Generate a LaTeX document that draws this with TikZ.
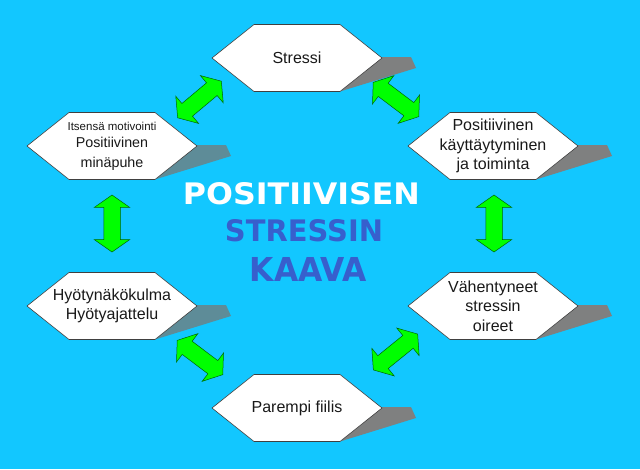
\documentclass[tikz,border=0pt]{standalone}
\usepackage{fontspec}
\setmainfont{Liberation Sans}
\newfontfamily\otsikko{DejaVu Sans}
\usetikzlibrary{shapes.arrows}
\definecolor{tausta}{RGB}{18,199,255}
\definecolor{varjoA}{RGB}{94,140,152}
\definecolor{varjoB}{RGB}{127,128,128}
\definecolor{nuoli}{RGB}{0,255,0}
\definecolor{sininen}{RGB}{55,95,205}
% Kuusikulmio: Name, x, y, Schattenfarbe, Text
\newcommand{\kuusikulmio}[5]{%
	\fill[#4] (#2+85,#3-1) -- (#2+114,#3-1) -- (#2+119,#3+10) -- (#2+43,#3+33.5) -- cycle;
	\filldraw[hexbox] (#2-85,#3) -- (#2-43,#3-33.5) -- (#2+43,#3-33.5) -- (#2+85,#3)
	-- (#2+43,#3+33.5) -- (#2-43,#3+33.5) -- cycle;
	\node[hextext] (#1) at (#2,#3) {#5};}
\begin{document}
\begin{tikzpicture}[x=1pt, y=-1pt,
	hexbox/.style={fill=white, draw=black!75, line width=0.6pt},
	hextext/.style={align=center, inner sep=0pt, text=black!90,
		font=\fontsize{16}{19.5}\selectfont},
	dblarrow/.style={double arrow, fill=nuoli, draw=black!60!green, line width=0.5pt,
		inner xsep=0pt, inner ysep=8pt, minimum height=57pt, minimum width=35pt,
		double arrow head extend=9.5pt, double arrow tip angle=110}]
	% Hintergrund
	\fill[tausta] (0,0) rectangle (640,469);
	% Kaesten
	\kuusikulmio{stressi}{297}{58}{varjoB}{Stressi}
	\kuusikulmio{motiv}{112}{146}{varjoA}{{\fontsize{11.5}{17}\selectfont Itsensä motivointi}\\[-2pt]
		\fontsize{14.3}{17}\selectfont Positiivinen\\ \fontsize{14.3}{17}\selectfont minäpuhe}
	\kuusikulmio{kaytt}{493}{146}{varjoB}{Positiivinen\\käyttäytyminen\\ja toiminta}
	\kuusikulmio{hyoty}{112}{306}{varjoA}{Hyötynäkökulma\\Hyötyajattelu}
	\kuusikulmio{vahen}{493}{306}{varjoB}{Vähentyneet\\stressin\\oireet}
	\kuusikulmio{parempi}{297}{408}{varjoB}{Parempi fiilis}
	% Pfeile
	\node[dblarrow, rotate=40] (n1) at (199.5,99.5) {};
	\node[dblarrow, rotate=-37] (n2) at (396,99.5) {};
	\node[dblarrow, rotate=90] (n3) at (112,223.5) {};
	\node[dblarrow, rotate=90] (n4) at (494,223.5) {};
	\node[dblarrow, rotate=-37] (n5) at (200,357.5) {};
	\node[dblarrow, rotate=39] (n6) at (395.5,352) {};
	% Titel
	\node[inner sep=0pt, text=white] (rivi1) at (301.5,194)
		{\resizebox{237pt}{22pt}{\otsikko\bfseries POSITIIVISEN}};
	\node[inner sep=0pt, text=sininen] (rivi2) at (304,231)
		{\resizebox{158pt}{22pt}{\otsikko\bfseries STRESSIN}};
	\node[inner sep=0pt, text=sininen] (rivi3) at (308.5,269.5)
		{\resizebox{117pt}{24pt}{\otsikko\bfseries KAAVA}};
\end{tikzpicture}
\end{document}
